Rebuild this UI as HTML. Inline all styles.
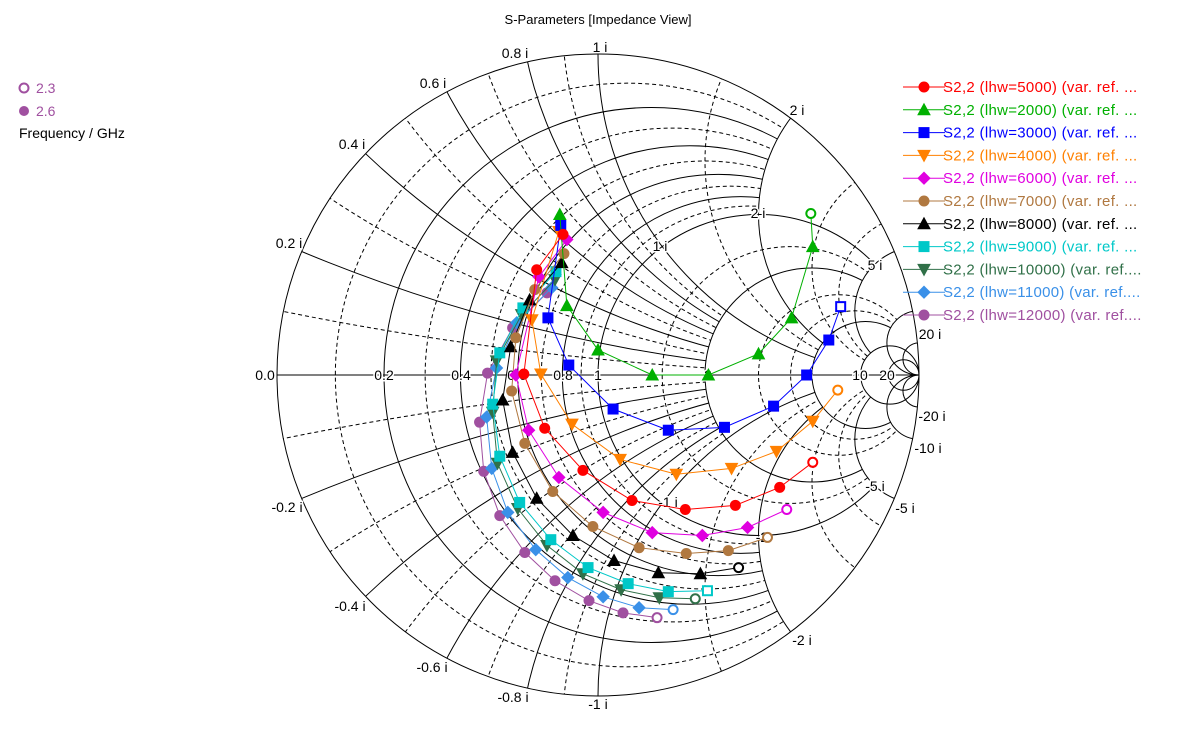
<!DOCTYPE html>
<html><head><meta charset="utf-8"><style>
html,body{margin:0;background:#fff;width:1198px;height:749px;overflow:hidden}
svg{display:block;overflow:hidden}
svg text{font-family:"Liberation Sans",sans-serif}
</style></head><body>
<svg id="chart" width="1198" height="749" xmlns="http://www.w3.org/2000/svg">
<defs id="defs"><clipPath id="uc"><circle cx="598" cy="375" r="321"/></clipPath></defs>
<text x="598" y="24" font-size="13" text-anchor="middle">S-Parameters [Impedance View]</text>
<g id="grid"></g>
<g id="labels"></g>
<g id="series"></g>
<g id="legend"></g>
<g>
<circle cx="24" cy="88" r="4.5" fill="#fff" stroke="#a050a0" stroke-width="2"/>
<text x="36" y="93" font-size="14" fill="#a050a0">2.3</text>
<circle cx="24" cy="111" r="5" fill="#a050a0"/>
<text x="36" y="116" font-size="14" fill="#a050a0">2.6</text>
<text x="19" y="138" font-size="14">Frequency / GHz</text>
</g>
</svg>
<script>
const rSolid=[0.2,0.4,0.6,0.8,1,2,5,10,20];
const rDashed=[0.1,0.3,0.5,0.7,0.9,1.5,3,4];
const xSolid=[0.2,0.4,0.6,0.8,1,2,5,10,20];
const xDashed=[0.1,0.3,0.5,0.7,0.9,1.5,3,4];
const seriesNames=["S2,2 (lhw=5000) (var. ref. ...","S2,2 (lhw=2000) (var. ref. ...","S2,2 (lhw=3000) (var. ref. ...","S2,2 (lhw=4000) (var. ref. ...","S2,2 (lhw=6000) (var. ref. ...","S2,2 (lhw=7000) (var. ref. ...","S2,2 (lhw=8000) (var. ref. ...","S2,2 (lhw=9000) (var. ref. ...","S2,2 (lhw=10000) (var. ref....","S2,2 (lhw=11000) (var. ref....","S2,2 (lhw=12000) (var. ref...."];
const re5000=[-0.109,-0.191,-0.231,-0.166,-0.047,0.106,0.272,0.428,0.566,0.669];
const im5000=[0.438,0.328,0.003,-0.166,-0.297,-0.391,-0.419,-0.406,-0.350,-0.272];
const re2000=[-0.119,-0.097,0,0.169,0.344,0.5,0.603,0.669,0.663];
const im2000=[0.5,0.216,0.078,0,0,0.066,0.178,0.4,0.503];
const re3000=[-0.116,-0.156,-0.091,0.047,0.219,0.394,0.547,0.65,0.719,0.756];
const im3000=[0.466,0.178,0.031,-0.106,-0.172,-0.163,-0.097,0,0.109,0.213];
const re4000=[-0.122,-0.206,-0.178,-0.081,0.069,0.244,0.416,0.556,0.669,0.747];
const im4000=[0.447,0.172,0.003,-0.153,-0.263,-0.309,-0.291,-0.238,-0.144,-0.047];
const re6000=[-0.097,-0.184,-0.256,-0.216,-0.122,0.016,0.169,0.325,0.466,0.588];
const im6000=[0.422,0.306,0,-0.172,-0.319,-0.428,-0.491,-0.5,-0.475,-0.419];
const re7000=[-0.106,-0.197,-0.256,-0.269,-0.228,-0.141,-0.016,0.128,0.275,0.406,0.528];
const im7000=[0.378,0.266,0.116,-0.05,-0.213,-0.363,-0.472,-0.538,-0.556,-0.547,-0.506];
const re8000=[-0.113,-0.213,-0.272,-0.297,-0.266,-0.191,-0.078,0.05,0.188,0.319,0.438];
const im8000=[0.35,0.234,0.088,-0.078,-0.241,-0.384,-0.5,-0.578,-0.616,-0.619,-0.6];
const re9000=[-0.131,-0.234,-0.306,-0.328,-0.306,-0.244,-0.147,-0.031,0.094,0.219,0.341];
const im9000=[0.322,0.209,0.069,-0.091,-0.253,-0.397,-0.513,-0.6,-0.65,-0.675,-0.672];
const re10000=[-0.134,-0.238,-0.316,-0.328,-0.313,-0.25,-0.159,-0.047,0.072,0.191,0.303];
const im10000=[0.297,0.188,0.044,-0.116,-0.275,-0.416,-0.531,-0.619,-0.669,-0.694,-0.697];
const re11000=[-0.144,-0.253,-0.316,-0.347,-0.331,-0.281,-0.194,-0.094,0.016,0.128,0.234];
const im11000=[0.272,0.163,0.022,-0.131,-0.291,-0.428,-0.544,-0.631,-0.691,-0.725,-0.731];
const re12000=[-0.159,-0.266,-0.344,-0.369,-0.356,-0.306,-0.228,-0.134,-0.028,0.078,0.184];
const im12000=[0.256,0.147,0.006,-0.147,-0.3,-0.438,-0.553,-0.641,-0.703,-0.741,-0.756];
const reAll=[re5000,re2000,re3000,re4000,re6000,re7000,re8000,re9000,re10000,re11000,re12000];
const imAll=[im5000,im2000,im3000,im4000,im6000,im7000,im8000,im9000,im10000,im11000,im12000];
const colors=["#ff0000","#00b000","#0000ff","#ff8000","#e000e0","#b07840","#000000","#00c8c8","#307048","#3a90e8","#a050a0"];
const shapes=["circle","tri","square","tridown","diamond","circle","tri","square","tridown","diamond","circle"];
const CX=598,CY=375,R=321;
const sx=g=>CX+g*R, sy=g=>CY-g*R;
const NS="http://www.w3.org/2000/svg";
function mk(t,a,p){const e=document.createElementNS(NS,t);for(const k in a)e.setAttribute(k,a[k]);p.appendChild(e);return e;}
const defs=document.getElementById('defs');
// mask keeping region r <= limit (hide interior of constant-r circle)
function rMask(r){const id='rm'+String(r).replace('.','_');if(!document.getElementById(id)){const m=mk('mask',{id:id,maskUnits:'userSpaceOnUse',x:0,y:0,width:1198,height:749},defs);mk('rect',{x:0,y:0,width:1198,height:749,fill:'#fff'},m);mk('circle',{cx:sx(r/(1+r)),cy:CY,r:R/(1+r),fill:'#000'},m);}return id;}
// mask keeping region |x| <= limit
function xMask(x){const id='xm'+String(x).replace('.','_');if(!document.getElementById(id)){const m=mk('mask',{id:id,maskUnits:'userSpaceOnUse',x:0,y:0,width:1198,height:749},defs);mk('rect',{x:0,y:0,width:1198,height:749,fill:'#fff'},m);mk('circle',{cx:sx(1),cy:sy(1/x),r:R/x,fill:'#000'},m);mk('circle',{cx:sx(1),cy:sy(-1/x),r:R/x,fill:'#000'},m);}return id;}
const grid=document.getElementById('grid');
function rLimit(r){return r<1?2:(r<=2?5:(r<=5?10:null));}
function xLimit(x){return x<1?2:(x<=2?5:(x<=5?10:null));}
function rCircle(r,dash){const lim=rLimit(r);const g=mk('g',lim?{mask:'url(#'+xMask(lim)+')'}:{},grid);
const c=mk('circle',{cx:sx(r/(1+r)),cy:CY,r:R/(1+r),fill:'none',stroke:'#000','stroke-width':1,'stroke-dasharray':dash?'4,3':'none'},g);

}
function xArc(x,dash){const lim=xLimit(x);const g0=mk('g',{'clip-path':'url(#uc)'},grid);const g=mk('g',lim?{mask:'url(#'+rMask(lim)+')'}:{},g0);
[1,-1].forEach(s=>{const c=mk('circle',{cx:sx(1),cy:sy(s/x),r:R/x,fill:'none',stroke:'#000','stroke-width':1,'stroke-dasharray':dash?'4,3':'none'},g);

});}
rDashed.forEach(r=>rCircle(r,true));xDashed.forEach(x=>xArc(x,true));
rSolid.forEach(r=>rCircle(r,false));xSolid.forEach(x=>xArc(x,false));
const oc=mk('circle',{cx:CX,cy:CY,r:R,fill:'none',stroke:'#000','stroke-width':1},grid);


const ax=mk('line',{x1:CX-R,y1:CY,x2:CX+R,y2:CY,stroke:'#000'},grid);


const lbls=[["0.0",265,375],["0.2",384,375],["0.4",461,375],["0.6",517,375],["0.8",563,375],["1",598,375],["2",708,375],["5",808,375],["10",860,375],["20",887,375],
["0.8 i",515,53],["1 i",600,47],["0.6 i",433,83],["0.4 i",352,144],["0.2 i",289,243],["-0.2 i",287,507],["-0.4 i",350,606],["-0.6 i",432,667],["-0.8 i",513,697],["-1 i",598,704],
["2 i",797,110],["5 i",875,265],["20 i",930,334],["-20 i",932,416],["-10 i",928,448],["-5 i",875,486],["-5 i",905,508],["-2 i",802,640],["1 i",660,246],["2 i",758,213],["-1 i",668,502],["-2",762,537]];
const lg=document.getElementById('labels');
lbls.forEach(l=>{const t=mk('text',{x:l[1],y:l[2]+5,'font-size':14,'text-anchor':'middle',stroke:'#fff','stroke-width':3,'paint-order':'stroke',fill:'#000'},lg);t.textContent=l[0];

});
function marker(shape,x,y,col,open,p){let e;const s=5;const a={fill:open?'#fff':col,stroke:col,'stroke-width':open?2:1};
if(open){return shape==='square'?mk('rect',Object.assign({x:x-4.5,y:y-4.5,width:9,height:9},a),p):mk('circle',Object.assign({cx:x,cy:y,r:4.5},a),p);}
if(shape==='circle'){e=mk('circle',Object.assign({cx:x,cy:y,r:s},a),p);}
else if(shape==='square'){e=mk('rect',Object.assign({x:x-s,y:y-s,width:2*s,height:2*s},a),p);}
else if(shape==='tri'){e=mk('polygon',Object.assign({points:`${x},${y-6} ${x-6},${y+5} ${x+6},${y+5}`},a),p);}
else if(shape==='tridown'){e=mk('polygon',Object.assign({points:`${x},${y+6} ${x-6},${y-5} ${x+6},${y-5}`},a),p);}
else{e=mk('polygon',Object.assign({points:`${x},${y-6} ${x+6},${y} ${x},${y+6} ${x-6},${y}`},a),p);}
return e;}
const sg=document.getElementById('series');
const order=[10,9,8,7,6,5,4,3,2,1,0];
order.forEach(i=>{const g=mk('g',{},sg);


const re=reAll[i],im=imAll[i];
const pl=mk('polyline',{points:re.map((v,k)=>sx(v)+','+sy(im[k])).join(' '),fill:'none',stroke:colors[i],'stroke-width':1},g);


re.forEach((v,k)=>{const m=marker(shapes[i],sx(v),sy(im[k]),colors[i],k===re.length-1,g);

});});
const leg=document.getElementById('legend');
seriesNames.forEach((n,i)=>{const y=87+i*22.8;const g=mk('g',{},leg);


mk('line',{x1:903,y1:y,x2:945,y2:y,stroke:colors[i]},g);
marker(shapes[i],924,y,colors[i],false,g);
const t=mk('text',{x:943,y:y+5,'font-size':15,'letter-spacing':0.3,fill:colors[i]},g);t.textContent=n;});
</script>
</body></html>
